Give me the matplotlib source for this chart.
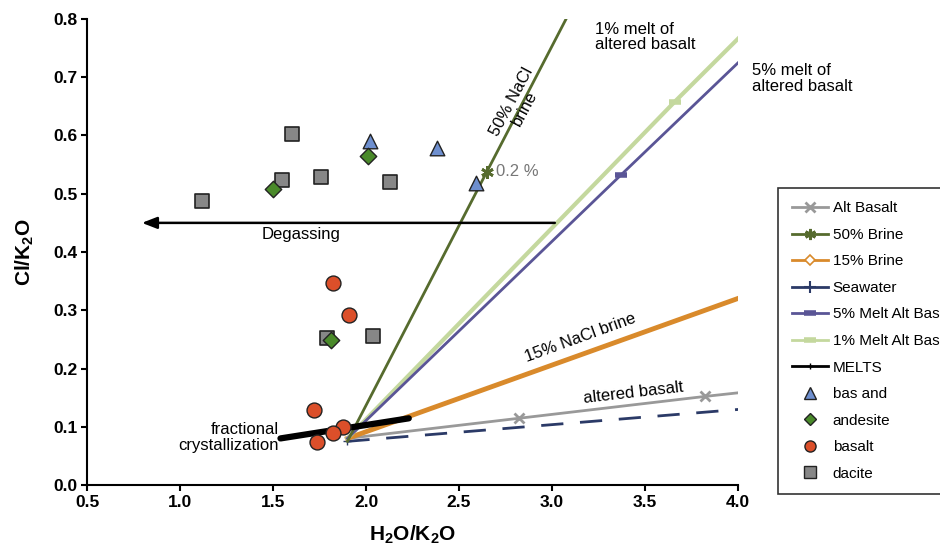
import matplotlib
matplotlib.use("Agg")
import matplotlib.pyplot as plt
from matplotlib.lines import Line2D

plt.rcParams['font.family'] = ['Liberation Sans', 'DejaVu Sans']
plt.rcParams['mathtext.fontset'] = 'custom'
plt.rcParams['mathtext.rm'] = 'Liberation Sans'
plt.rcParams['mathtext.bf'] = 'Liberation Sans:bold'

# sample data
bas_and_x = [2.02, 2.38, 2.59]
bas_and_y = [0.591, 0.578, 0.519]
andesite_x = [1.50, 2.01, 1.81]
andesite_y = [0.508, 0.564, 0.249]
basalt_x = [1.82, 1.91, 1.72, 1.875, 1.82, 1.735]
basalt_y = [0.346, 0.292, 0.128, 0.100, 0.090, 0.074]
dacite_x = [1.12, 1.60, 1.55, 1.76, 2.13, 1.79, 2.04]
dacite_y = [0.488, 0.602, 0.524, 0.528, 0.520, 0.252, 0.256]

# mixing / model lines
alt_bas_x = [1.90, 2.82, 3.82, 4.05]
alt_bas_y = [0.080, 0.1145, 0.152, 0.160]
brine50_x = [1.90, 2.65, 3.10]
brine50_y = [0.075, 0.538, 0.815]
brine15_x = [1.90, 4.05]
brine15_y = [0.080, 0.326]
seawater_x = [1.90, 4.05]
seawater_y = [0.075, 0.131]
melt5_x = [1.90, 3.37, 4.05]
melt5_y = [0.080, 0.532, 0.740]
melt1_x = [1.90, 3.66, 4.05]
melt1_y = [0.080, 0.658, 0.782]
melts_x = [1.54, 2.23]
melts_y = [0.080, 0.1145]

c_alt = '#999999'
c_b50 = '#566b2e'
c_b15 = '#d98a2b'
c_sea = '#2b3a67'
c_m5 = '#5a5596'
c_m1 = '#c4d89e'

fig = plt.figure(figsize=(9.4, 5.47), dpi=100)
ax = fig.add_axes([0.0926, 0.1133, 0.6925, 0.852])

ax.plot(seawater_x, seawater_y, color=c_sea, lw=2, dashes=(8, 6),
        marker='+', markevery=[0], ms=6)
ax.plot(alt_bas_x, alt_bas_y, color=c_alt, lw=2, marker='x', ms=7, mew=2,
        markevery=[1, 2])
ax.plot(brine15_x, brine15_y, color=c_b15, lw=3.5)
ax.plot(melt1_x, melt1_y, color=c_m1, lw=3, marker='_', ms=9, mew=4, markevery=[1])
ax.plot(melt5_x, melt5_y, color=c_m5, lw=2, marker='_', ms=9, mew=4, markevery=[1])
ax.plot(brine50_x, brine50_y, color=c_b50, lw=2, marker=(6, 2, 0), ms=9, mew=2,
        markevery=[1])
ax.plot(melts_x, melts_y, color='black', lw=4.5, solid_capstyle='round')

ax.scatter(bas_and_x, bas_and_y, marker='^', s=110, c='#6e8fcf', edgecolors='#222222',
           linewidths=1, zorder=5)
ax.scatter(andesite_x, andesite_y, marker='D', s=70, c='#4a8a2a', edgecolors='#222222',
           linewidths=1, zorder=6)
ax.scatter(basalt_x, basalt_y, marker='o', s=115, c='#db4f2a', edgecolors='#222222',
           linewidths=1, zorder=5)
ax.scatter(dacite_x, dacite_y, marker='s', s=115, c='#878787', edgecolors='#222222',
           linewidths=1.2, zorder=5)

# degassing arrow
ax.annotate('', xy=(0.78, 0.450), xytext=(3.03, 0.450),
            arrowprops=dict(arrowstyle='-|>,head_length=0.9,head_width=0.35',
                            color='black', lw=1.8))
ax.text(1.65, 0.430, 'Degassing', fontsize=12, ha='center', va='center')

ax.text(2.70, 0.538, '0.2 %', fontsize=12, color='#777777', va='center', ha='left')
ax.text(2.82, 0.652, '50% NaCl\nbrine', fontsize=12, ha='center', va='center',
        rotation=62, linespacing=1.0)
ax.text(3.15, 0.252, '15% NaCl brine', fontsize=12, ha='center', va='center', rotation=20)
ax.text(3.44, 0.158, 'altered basalt', fontsize=12, ha='center', va='center', rotation=6.5)
ax.text(1.53, 0.082, 'fractional\ncrystallization', fontsize=12, ha='right', va='center',
        linespacing=1.05)
ax.text(3.23, 0.795, '1% melt of\naltered basalt', fontsize=12, ha='left', va='top',
        linespacing=1.05)
ax.text(4.075, 0.724, '5% melt of\naltered basalt', fontsize=12, ha='left', va='top',
        linespacing=1.05, clip_on=False)

ax.set_xlim(0.5, 4.0)
ax.set_ylim(0.0, 0.8)
ax.set_xticks([0.5, 1.0, 1.5, 2.0, 2.5, 3.0, 3.5, 4.0])
ax.set_yticks([0.0, 0.1, 0.2, 0.3, 0.4, 0.5, 0.6, 0.7, 0.8])
ax.set_xticklabels(['0.5', '1.0', '1.5', '2.0', '2.5', '3.0', '3.5', '4.0'])
ax.set_yticklabels(['0.0', '0.1', '0.2', '0.3', '0.4', '0.5', '0.6', '0.7', '0.8'])
for lab in ax.get_xticklabels() + ax.get_yticklabels():
    lab.set_fontweight('bold')
ax.tick_params(labelsize=12.5, length=4, width=1.5, pad=3)
for s in ['top', 'right']:
    ax.spines[s].set_visible(False)
for s in ['left', 'bottom']:
    ax.spines[s].set_linewidth(1.5)

ax.set_xlabel(r'$\mathbf{H_2O/K_2O}$', fontsize=15, labelpad=10)
ax.set_ylabel(r'$\mathbf{Cl/K_2O}$', fontsize=15, labelpad=12)

# legend handles
handles = [
    Line2D([], [], color=c_alt, lw=2, marker='x', ms=7, mew=2),
    Line2D([], [], color=c_b50, lw=2, marker=(6, 2, 0), ms=8, mew=2),
    Line2D([], [], color=c_b15, lw=2, marker='D', ms=5, mfc='white', mew=1.2),
    Line2D([], [], color=c_sea, lw=2, marker='+', ms=8, mew=1.5),
    Line2D([], [], color=c_m5, lw=2, marker='_', ms=8, mew=4),
    Line2D([], [], color=c_m1, lw=2, marker='_', ms=8, mew=4),
    Line2D([], [], color='black', lw=2, marker='+', ms=5, mew=1),
    Line2D([], [], ls='none', marker='^', ms=8, mfc='#6e8fcf', mec='#222222'),
    Line2D([], [], ls='none', marker='D', ms=6, mfc='#4a8a2a', mec='#222222'),
    Line2D([], [], ls='none', marker='o', ms=8, mfc='#db4f2a', mec='#222222'),
    Line2D([], [], ls='none', marker='s', ms=8, mfc='#878787', mec='#222222'),
]
labels = ['Alt Basalt', '50% Brine', '15% Brine', 'Seawater', '5% Melt Alt Bas',
          '1% Melt Alt Bas', 'MELTS', 'bas and', 'andesite', 'basalt', 'dacite']
leg = fig.legend(handles, labels, loc='upper left', bbox_to_anchor=(0.8275, 0.657),
                 borderaxespad=0, fontsize=11, frameon=True, fancybox=False,
                 edgecolor='black', handlelength=2.4, labelspacing=0.82,
                 borderpad=0.9, handletextpad=0.3)
leg.get_frame().set_linewidth(1.2)

fig.savefig('out.png', dpi=100)
